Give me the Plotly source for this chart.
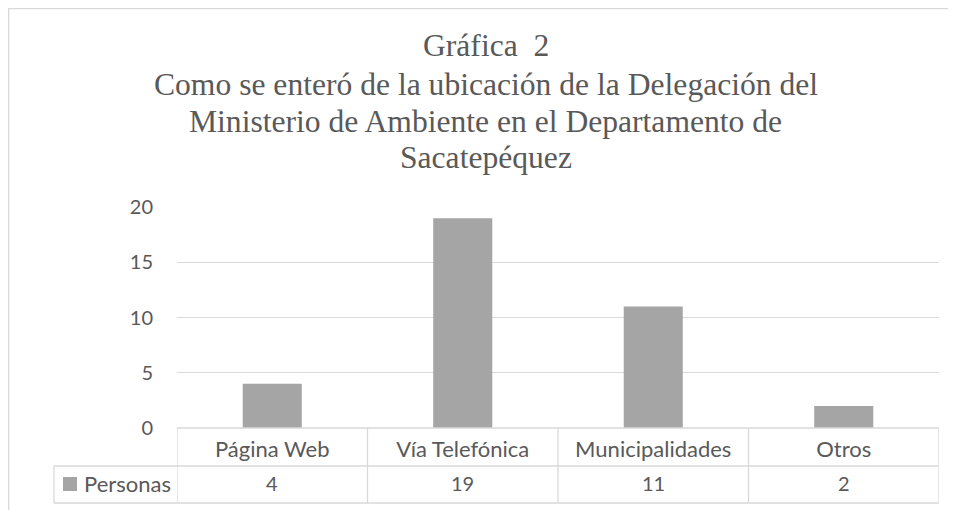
import plotly.graph_objects as go

categories = ["Página Web", "Vía Telefónica", "Municipalidades", "Otros"]
values = [4, 19, 11, 2]
series_name = "Personas"
y_ticks = [0, 5, 10, 15, 20]
title_lines = ["Gráfica\u00a0 2",
               "Como se enteró de la ubicación de la Delegación del",
               "Ministerio de Ambiente en el Departamento de",
               "Sacatepéquez"]

# The page body has an 8px margin, so the figure is shrunk by that much
# and reference pixel positions are converted with the offset.
OFF = 8
W, H = 956 - OFF, 510 - OFF
BAR = "#a5a5a5"
GRID = "#d9d9d9"
TXT = "#595959"
FONT = "Lato"


def px(x):
    return (x - OFF) / W


def py(y):
    return 1 - (y - OFF) / H


fig = go.Figure()
fig.add_trace(go.Bar(x=categories, y=values, name=series_name,
                     marker=dict(color=BAR, line=dict(width=0)),
                     showlegend=False, hoverinfo="x+y"))

line = dict(color=GRID, width=1.3)
shapes = []
# outer chart border (right/bottom edges lie beyond the picture)
shapes.append(dict(type="rect", xref="paper", yref="paper",
                   x0=px(8.7), x1=1.05, y0=-0.05, y1=py(8.7), line=line))
# data-table grid
shapes.append(dict(type="line", xref="x", yref="paper", x0=-0.5, x1=3.5,
                   y0=py(428), y1=py(428), line=line))
for yy in (466, 503):
    shapes.append(dict(type="line", xref="paper", yref="paper", x0=px(54), x1=px(939),
                       y0=py(yy), y1=py(yy), line=line))
for b in [-0.5, 0.5, 1.5, 2.5, 3.5]:
    shapes.append(dict(type="line", xref="x", yref="paper", x0=b, x1=b,
                       y0=py(428), y1=py(503), line=line))
shapes.append(dict(type="line", xref="paper", yref="paper", x0=px(54), x1=px(54),
                   y0=py(466), y1=py(503), line=line))
# legend key square in the table
shapes.append(dict(type="rect", xref="paper", yref="paper", x0=px(63), x1=px(77),
                   y0=py(491), y1=py(477), fillcolor=BAR, line=dict(width=0)))

annotations = []
title_centres = [45.5, 84.5, 121.5, 157.5]
for t, yc in zip(title_lines, title_centres):
    annotations.append(dict(text=t, xref="paper", yref="paper",
                            x=px(486), y=py(yc), xanchor="center", yanchor="middle",
                            showarrow=False,
                            font=dict(family="Liberation Serif", size=31.6, color=TXT)))
for c, v in zip(categories, values):
    annotations.append(dict(text=str(v), xref="x", yref="paper", x=c, y=py(482.5),
                            xanchor="center", yanchor="middle", showarrow=False,
                            font=dict(family=FONT, size=20, color=TXT)))
annotations.append(dict(text=series_name, xref="paper", yref="paper", x=px(82), y=py(483),
                        xanchor="left", yanchor="middle", showarrow=False,
                        font=dict(family=FONT, size=22, color=TXT)))

fig.update_layout(
    width=W, height=H, margin=dict(l=0, r=0, t=0, b=0, autoexpand=False),
    paper_bgcolor="white", plot_bgcolor="white",
    bargap=0.69,
    shapes=shapes, annotations=annotations,
    xaxis=dict(domain=[px(177), px(939)], range=[-0.5, 3.5], showgrid=False,
               showline=False, zeroline=False, ticks="", ticklabelstandoff=6,
               automargin=False,
               tickfont=dict(family=FONT, size=22, color=TXT), fixedrange=True),
    yaxis=dict(domain=[py(428), py(207.3)], range=[0, 20], tickvals=y_ticks,
               showgrid=True, gridcolor=GRID, gridwidth=1.3, zeroline=False,
               showline=False, ticks="", ticklabelstandoff=23, automargin=False,
               tickfont=dict(family=FONT, size=20, color=TXT), fixedrange=True),
)

fig.write_html("out.html")
